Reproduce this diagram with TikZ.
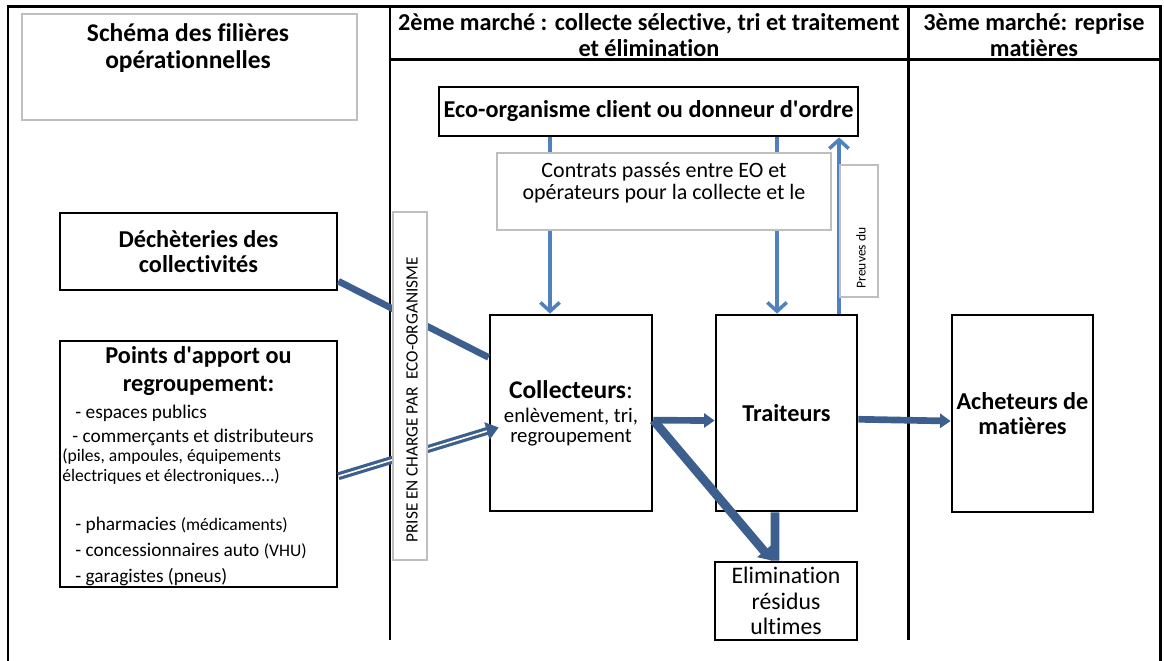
\documentclass[tikz,border=0pt]{standalone}
\usepackage{fontspec}
\setmainfont[Ligatures=NoCommon]{Carlito}
\usepackage{tikz}
\usetikzlibrary{arrows.meta}
\definecolor{flowblue}{HTML}{3C5F8E}
\definecolor{linkblue}{HTML}{4F81BD}
\definecolor{boxgray}{HTML}{BFBFBF}
\tikzset{
  blackbox/.style={draw=black,line width=1.6pt,fill=white,inner sep=2pt,align=center},
  graybox/.style={draw=boxgray,line width=1.3pt,fill=white,inner sep=0pt},
  bigbold/.style={font=\fontsize{13.8}{14.4}\selectfont\bfseries,align=center},
  itemtext/.style={font=\fontsize{11}{12}\selectfont,anchor=west,inner sep=0pt},
  smalltext/.style={font=\fontsize{10}{11}\selectfont,anchor=west,inner sep=0pt},
  thinarrow/.style={draw=linkblue,line width=2pt,-{Straight Barb[length=5pt,width=11pt]}},
  fatflow/.style={draw=flowblue,line width=3.8pt},
}

\begin{document}
\begin{tikzpicture}[x=0.02cm,y=-0.02cm]
  \useasboundingbox (0,0) rectangle (1164,661);
  \draw [line width=1.7pt] (8,661) -- (8,7) -- (1160,7) -- (1160,661);
  \draw [line width=1.7pt] (390,7) -- (390,640);
  \draw [line width=1.7pt] (908,7) -- (908,640);
  \draw [line width=1.7pt] (390,60) -- (1160,60);

  \draw [graybox] (22,14) rectangle (357,120);
  \node [bigbold,font=\fontsize{14.5}{15.4}\selectfont\bfseries] (title) at (188,48) {Schéma des filières\\opérationnelles};
  \node [bigbold] (hdrtwo) at (649,35) {2ème marché : collecte sélective, tri et traitement\\et élimination};
  \node [bigbold] (hdrthree) at (1034,35) {3ème marché: reprise\\matières};

  \node [blackbox,bigbold,minimum width=8.38cm,minimum height=0.98cm] (eco) at (648.5,111.5) {Eco-organisme client ou donneur d\textquotesingle ordre};
  \node [blackbox,bigbold,minimum width=5.54cm,minimum height=1.54cm] (dechet) at (198.5,251.5) {Déchèteries des\\collectivités};
  \node [blackbox,minimum width=5.54cm,minimum height=4.92cm] (points) at (198.5,464) {};
  \node [bigbold,font=\fontsize{13.8}{16}\selectfont\bfseries] (pointshead) at (198.5,371) {Points d\textquotesingle apport ou\\regroupement:};
  \node [itemtext] (espaces) at (75,413) {- espaces publics};
  \node [itemtext] (commerce) at (72,437) {- commerçants et distributeurs};
  \node [smalltext] (piles) at (62,456) {(piles, ampoules, équipements};
  \node [smalltext] (elec) at (62,476) {électriques et électroniques...)};
  \node [itemtext] (pharma) at (75,525) {- pharmacies {\fontsize{10}{11}\selectfont(médicaments)}};
  \node [itemtext] (concess) at (75,551) {- concessionnaires auto {\fontsize{10}{11}\selectfont(VHU)}};
  \node [itemtext] (garage) at (75,577) {- garagistes (pneus)};

  \node [blackbox,minimum width=3.24cm,minimum height=3.92cm] (collect) at (571,413) {{\fontsize{14.5}{15}\selectfont\bfseries Collecteurs}{\fontsize{14.5}{15}\selectfont:}\\[1.6pt]{\fontsize{11.8}{12}\selectfont enlèvement, tri,}\\[-0.7pt]{\fontsize{11.8}{12}\selectfont regroupement}};
  \node [blackbox,bigbold,minimum width=2.82cm,minimum height=3.92cm] (trait) at (786.5,413) {Traiteurs};
  \node [blackbox,font=\fontsize{13.5}{14.5}\selectfont,minimum width=2.84cm,minimum height=1.56cm] (elim) at (786,601) {Elimination\\résidus\\ultimes};
  \node [blackbox,bigbold,minimum width=2.82cm,minimum height=3.94cm] (achet) at (1022.5,413.5) {Acheteurs de\\matières};

  \draw [fatflow] (dechet.-12.4) -- (collect.146.8);
  \draw [draw=flowblue,line width=1.8pt,double=white,double distance=0.9pt,shorten >=-6pt,-{Triangle[length=7pt,width=10pt,fill=flowblue]}] (points.-5.6) -- (collect.-168);
  \draw [fatflow,-{Triangle[length=6pt,width=8pt]}] (collect.-5) -- (trait.-174.3);
  \draw [fatflow,line width=5pt,-{Triangle[length=7pt,width=10pt]}] (collect.-5) -- (elim.109.7);
  \draw [fatflow,line width=5pt] ([xshift=-0.23cm]trait.south) -- ([xshift=-0.22cm]elim.north);
  \draw [fatflow,-{Triangle[length=6pt,width=8pt]}] (trait.-5.7) -- (achet.-174.3);

  \coordinate (cin) at ([xshift=-0.42cm]collect.north);
  \coordinate (tin) at ([xshift=-0.19cm]trait.north);
  \coordinate (tout) at ([xshift=1.05cm]trait.north);
  \draw [thinarrow] (eco.south -| cin) -- (cin);
  \draw [thinarrow] (eco.south -| tin) -- (tin);
  \draw [thinarrow] (tout) -- (eco.south -| tout);

  \node [graybox,minimum width=6.68cm,minimum height=1.54cm] (contrat) at (664,191.5) {};
  \node [font=\fontsize{12.5}{12.6}\selectfont,align=center] (contrattext) at (664,183) {Contrats passés entre EO et\\opérateurs pour la collecte et le};
  \node [graybox,minimum width=0.76cm,minimum height=2.64cm] (preuves) at (859,231) {};
  \node [font=\fontsize{7.7}{8}\selectfont,rotate=90] (preuvestext) at (861,258) {Preuves du};
  \node [graybox,minimum width=0.68cm,minimum height=6.96cm] (prise) at (410,386) {};
  \node [font=\fontsize{9.8}{10}\selectfont,rotate=90] (prisetext) at (412,400) {PRISE EN CHARGE PAR\ \ ECO-ORGANISME};
\end{tikzpicture}
\end{document}
